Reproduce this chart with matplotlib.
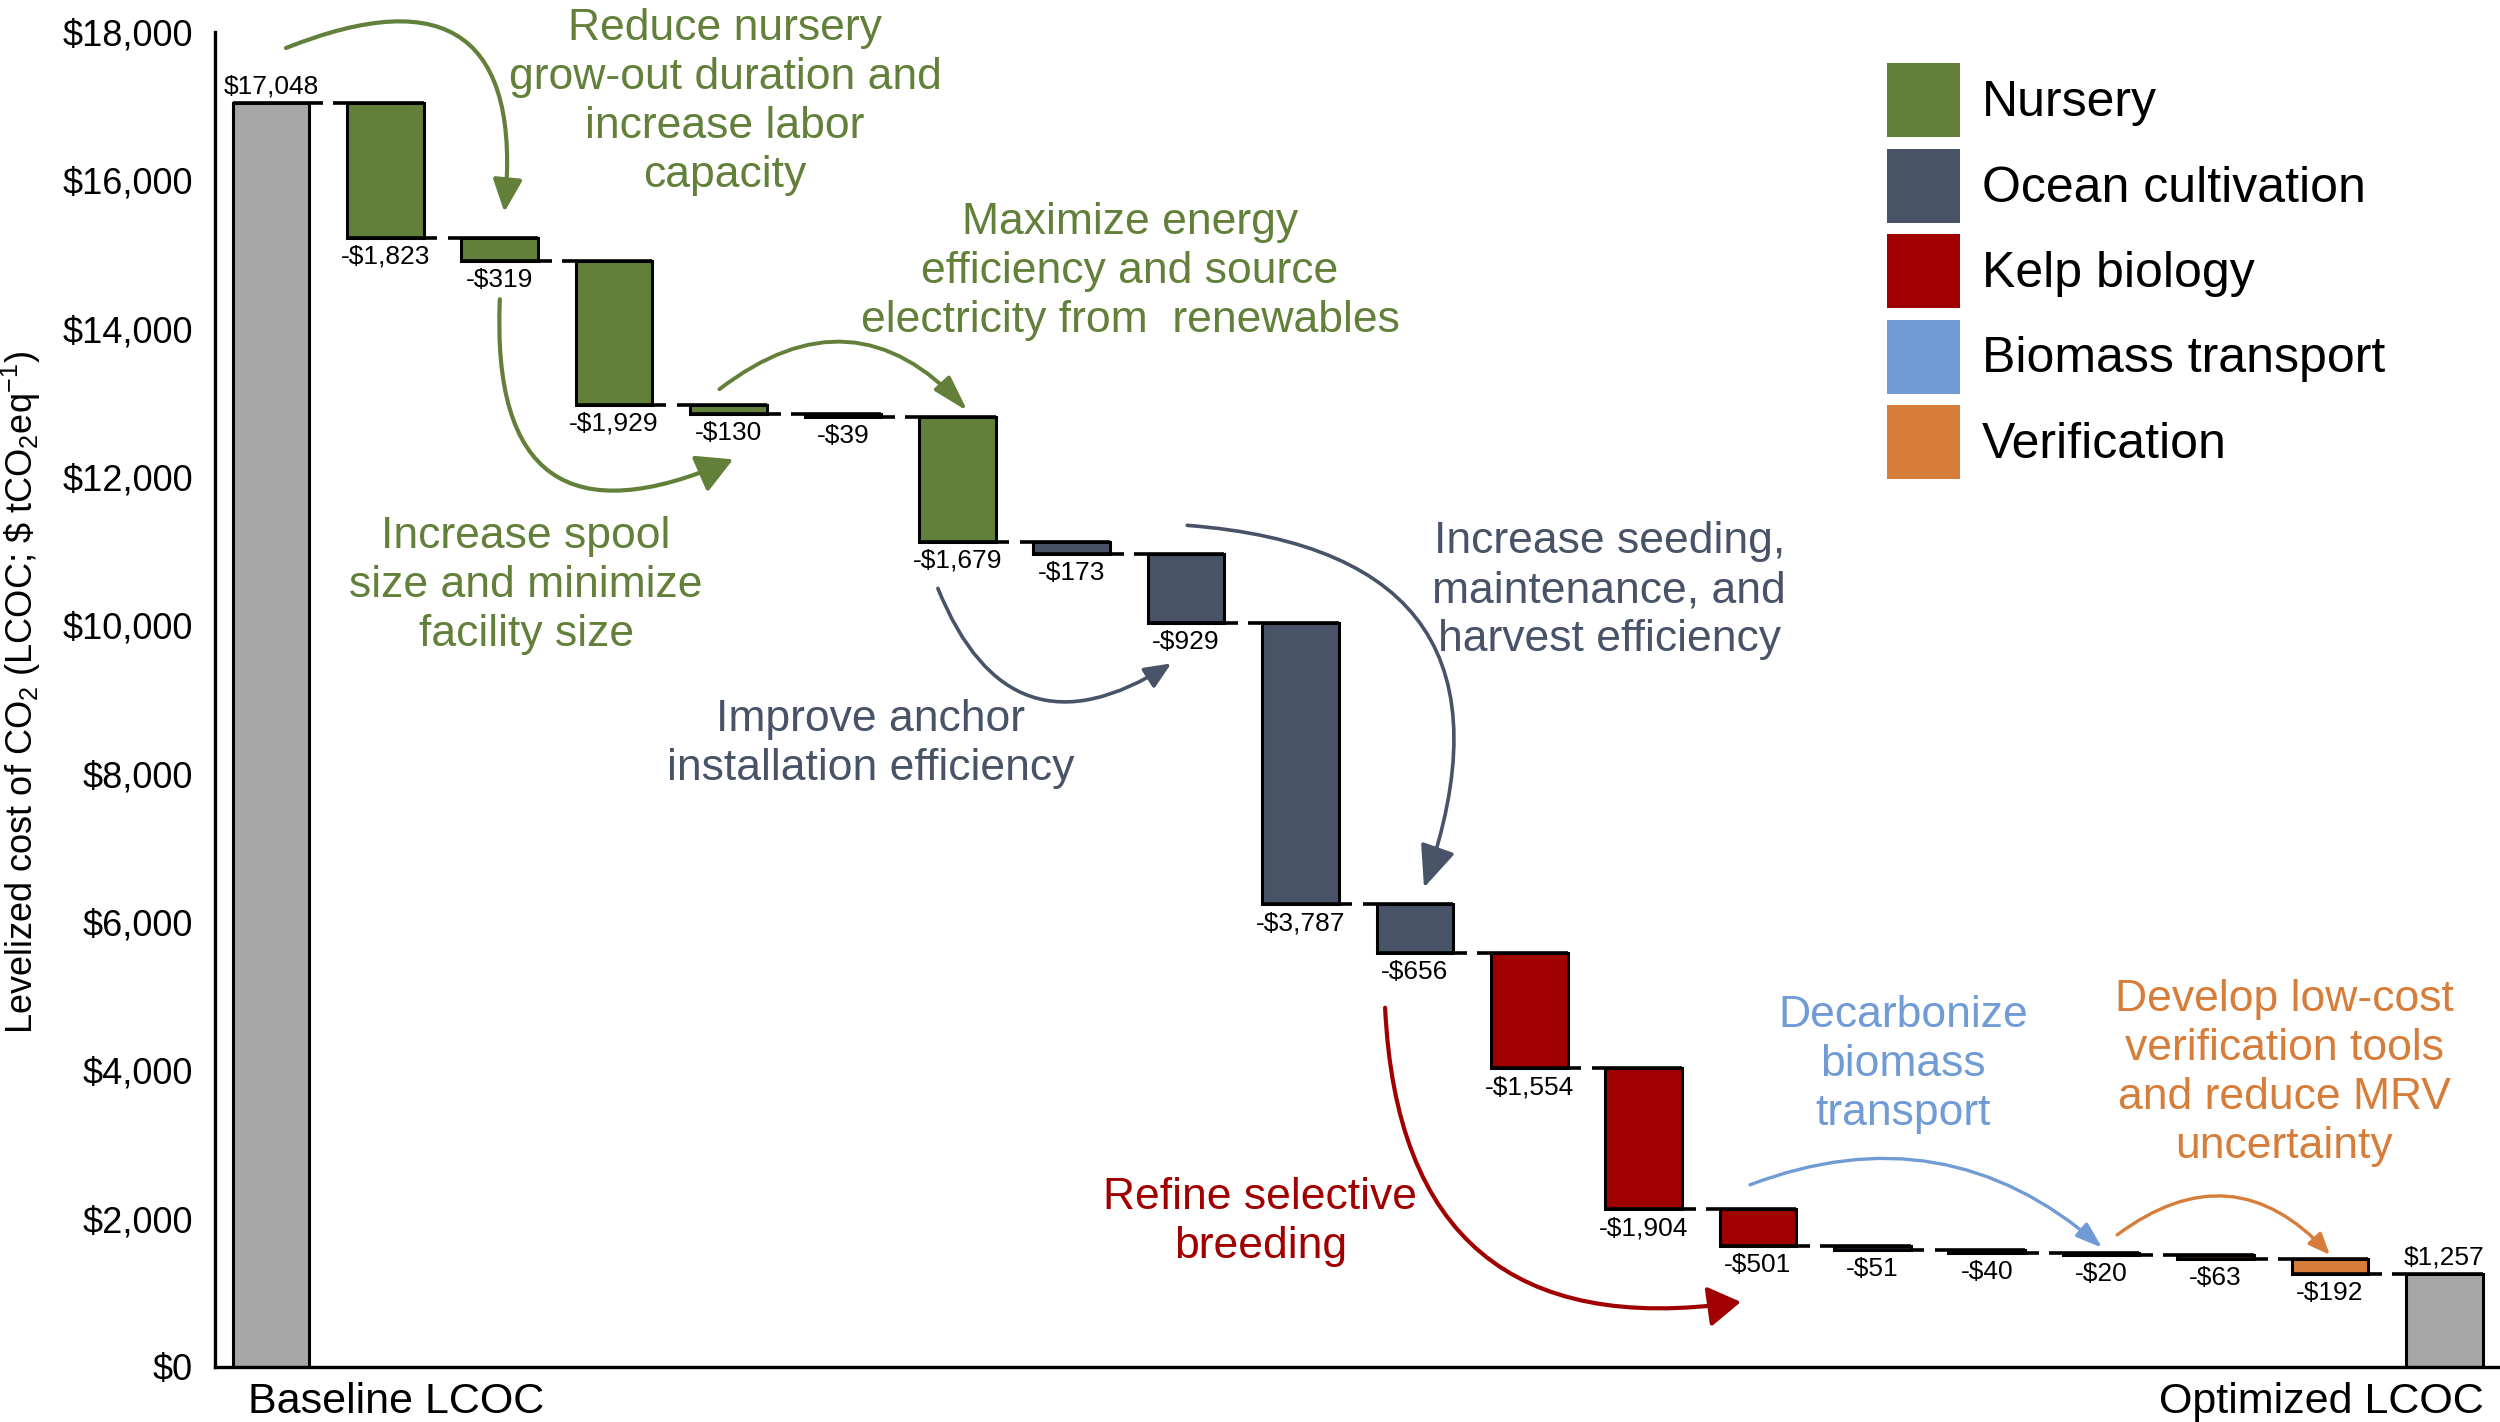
import matplotlib
matplotlib.use('Agg')
import numpy as np
import matplotlib.pyplot as plt
from matplotlib.patches import Patch

plt.rcParams['font.family'] = ['Liberation Sans', 'DejaVu Sans']
plt.rcParams['mathtext.fontset'] = 'custom'
plt.rcParams['mathtext.rm'] = 'Liberation Sans'
plt.rcParams['mathtext.it'] = 'Liberation Sans:italic'
plt.rcParams['mathtext.bf'] = 'Liberation Sans:bold'

# chart values
baseline = 17048
optimized = 1257
changes = [-1823, -319, -1929, -130, -39, -1679,
           -173, -929, -3787, -656,
           -1554, -1904, -501,
           -51, -40, -20,
           -63, -192]
groups = (['Nursery'] * 6 + ['Ocean cultivation'] * 4 + ['Kelp biology'] * 3
          + ['Biomass transport'] * 3 + ['Verification'] * 2)
group_names = ['Nursery', 'Ocean cultivation', 'Kelp biology', 'Biomass transport', 'Verification']
end_labels = ['Baseline LCOC', 'Optimized LCOC']
yticks = list(range(0, 18001, 2000))

# colours
group_colors = {'Nursery': '#62803a', 'Ocean cultivation': '#485368', 'Kelp biology': '#a00000',
                'Biomass transport': '#709bd4', 'Verification': '#d67d3a'}
gray = '#a6a6a6'

fig = plt.figure(figsize=(25, 14.22), dpi=100)
ax = fig.add_axes([0.086, 0.0387, 0.9132, 0.9388])

n = len(changes)
x = np.arange(n + 2)
w = 0.67
ext = 0.12
ends = baseline + np.cumsum(changes)
starts = np.concatenate([[baseline], ends[:-1]])
colors = [group_colors[g] for g in groups]

# bars
ax.bar(x[0], baseline, width=w, color=gray, edgecolor='black', linewidth=2.2)
ax.bar(x[1:-1], starts - ends, bottom=ends, width=w, color=colors, edgecolor='black', linewidth=2.2)
ax.bar(x[-1], optimized, width=w, color=gray, edgecolor='black', linewidth=2.2)

# connector lines: start level reaches left, end level reaches right
line_kw = dict(colors='black', linewidth=2.6)
ax.hlines(baseline, x[0] - w / 2, x[0] + w / 2 + ext, **line_kw)
for xi, s, e in zip(x[1:-1], starts, ends):
    ax.hlines(s, xi - w / 2 - ext, xi + w / 2, **line_kw)
    ax.hlines(e, xi - w / 2, xi + w / 2 + ext, **line_kw)
ax.hlines(optimized, x[-1] - w / 2 - ext, x[-1] + w / 2, **line_kw)

# value labels
ax.annotate(f'${baseline:,}', (x[0], baseline), xytext=(0, 3), textcoords='offset points',
            ha='center', va='bottom', fontsize=19)
ax.annotate(f'${optimized:,}', (x[-1], optimized), xytext=(0, 3), textcoords='offset points',
            ha='center', va='bottom', fontsize=19)
for xi, v, e in zip(x[1:-1], changes, ends):
    ax.annotate(f'-${abs(v):,}', (xi, e), xytext=(0, -5), textcoords='offset points',
                ha='center', va='top', fontsize=19)

# axes
ax.set_xlim(-0.49, 19.47)
ax.set_ylim(0, 18000)
ax.set_yticks(yticks)
ax.set_yticklabels([f'${v:,}' for v in yticks], fontsize=26)
ax.tick_params(axis='y', length=0, pad=16)
ax.set_xticks([])
for side in ['top', 'right']:
    ax.spines[side].set_visible(False)
for side in ['left', 'bottom']:
    ax.spines[side].set_linewidth(2.4)

ax.annotate(end_labels[0], (x[0] - w / 2, 0), xytext=(11, -11), textcoords='offset points',
            ha='left', va='top', fontsize=31, annotation_clip=False)
ax.annotate(end_labels[1], (x[-1] + w / 2, 0), xytext=(1, -11), textcoords='offset points',
            ha='right', va='top', fontsize=31, annotation_clip=False)

fig.text(21 / 2500, 1 - 692 / 1422,
         r'Levelized cost of CO$_\mathregular{2}$ (LCOC; \$ tCO$_\mathregular{2}$eq$^\mathregular{-1}$)',
         rotation=90, ha='center', va='center', fontsize=26)

# legend
handles = [Patch(facecolor=group_colors[g], edgecolor='none') for g in group_names]
fig.legend(handles, group_names, loc='upper left', bbox_to_anchor=(1887 / 2500, 1 - 63 / 1422),
           frameon=False, fontsize=36, handlelength=1.45, handleheight=1.9,
           labelspacing=0.23, handletextpad=0.45, borderpad=0, borderaxespad=0)

# improvement notes: text (centre x, baseline of last line) and curved arrows
notes = [
    ('Reduce nursery\ngrow-out duration and\nincrease labor\ncapacity', 3.97, 15909, 'Nursery'),
    ('Increase spool\nsize and minimize\nfacility size', 2.23, 9720, 'Nursery'),
    ('Maximize energy\nefficiency and source\nelectricity from  renewables', 7.51, 13952, 'Nursery'),
    ('Improve anchor\ninstallation efficiency', 5.24, 7921, 'Ocean cultivation'),
    ('Increase seeding,\nmaintenance, and\nharvest efficiency', 11.70, 9648, 'Ocean cultivation'),
    ('Refine selective\nbreeding', 8.65, 1471, 'Kelp biology'),
    ('Decarbonize\nbiomass\ntransport', 14.27, 3265, 'Biomass transport'),
    ('Develop low-cost\nverification tools\nand reduce MRV\nuncertainty', 17.60, 2820, 'Verification'),
]
for s, tx, ty, g in notes:
    ax.text(tx, ty, s, color=group_colors[g], fontsize=32, ha='center', va='baseline',
            linespacing=1.25)

arrows = [
    ((0.13, 17784), (2.04, 15571), -0.82, 'Nursery', 3.0, 1.0, 0.45),
    ((2.0, 14397), (4.04, 12238), 0.8, 'Nursery', 3.0, 1.1, 0.6),
    ((3.92, 13183), (6.09, 12886), -0.46, 'Nursery', 2.8, 1.1, 0.32),
    ((5.83, 10498), (7.87, 9486), 0.6, 'Ocean cultivation', 2.6, 0.8, 0.35),
    ((8.01, 11348), (10.08, 6463), -0.65, 'Ocean cultivation', 2.6, 1.3, 0.55),
    ((9.74, 4844), (12.85, 877), 0.55, 'Kelp biology', 3.0, 1.0, 0.62),
    ((12.93, 2456), (16.01, 1606), -0.3, 'Biomass transport', 2.4, 0.8, 0.27),
    ((16.14, 1781), (18.0, 1511), -0.45, 'Verification', 2.4, 0.65, 0.27),
]
for start, end, rad, g, lw, hl, hw in arrows:
    ax.annotate('', xy=end, xytext=start,
                arrowprops=dict(arrowstyle=f'-|>,head_length={hl},head_width={hw}',
                                connectionstyle=f'arc3,rad={rad}', color=group_colors[g],
                                lw=lw, shrinkA=0, shrinkB=0, mutation_scale=20),
                annotation_clip=False)

fig.savefig('out.png', dpi=100)
